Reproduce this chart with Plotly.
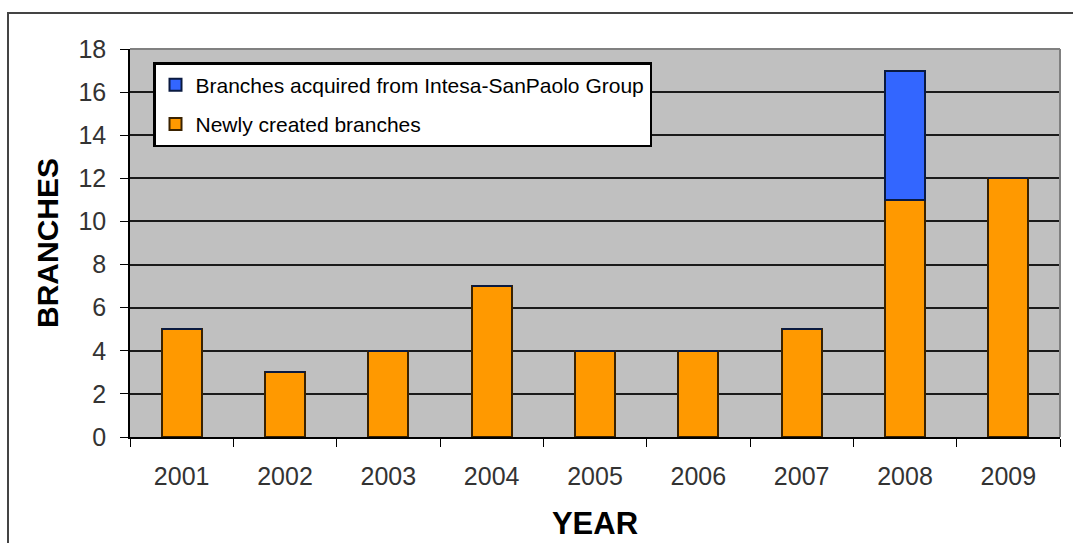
import plotly.graph_objects as go

years = ["2001", "2002", "2003", "2004", "2005", "2006", "2007", "2008", "2009"]
newly_created = [5, 3, 4, 7, 4, 4, 5, 11, 12]
acquired = [0, 0, 0, 0, 0, 0, 0, 6, 0]
y_ticks = [0, 2, 4, 6, 8, 10, 12, 14, 16, 18]

L, R, T, B = 130, 13, 49, 106
W, H = 1073, 543
pw, ph = W - L - R, H - T - B

fig = go.Figure()
fig.add_trace(go.Bar(
    x=years, y=newly_created, name="Newly created branches",
    legendgroup="a", legendrank=2,
    marker=dict(color="#FF9900", line=dict(color="#3a2200", width=2)),
))
fig.add_trace(go.Bar(
    x=years, y=acquired, name="Branches acquired from Intesa-SanPaolo Group",
    legendgroup="b", legendrank=1,
    marker=dict(color="#3366FF", line=dict(color="#0a1a40", width=2)),
))

fig.update_layout(
    width=W, height=H,
    margin=dict(l=L, r=R, t=T, b=B, autoexpand=False),
    barmode="stack",
    bargap=0.61,
    paper_bgcolor="white",
    plot_bgcolor="#C0C0C0",
    font=dict(family="Arial, Liberation Sans, sans-serif", size=25, color="#333333"),
    showlegend=True,
    legend=dict(
        traceorder="grouped",
        x=(153 - L) / pw, y=(H - B - 62) / ph, xanchor="left", yanchor="top",
        bgcolor="white", bordercolor="black", borderwidth=2.5,
        font=dict(size=21, color="black"),
        itemwidth=30, tracegroupgap=9,
    ),
    xaxis=dict(
        showgrid=False, showline=True, linecolor="black", linewidth=1.5,
        ticks="outside", ticklen=8, tickcolor="black", tickson="boundaries",
        tickfont=dict(size=25, color="#333333"), ticklabelstandoff=16,
        title=dict(text="<b>YEAR</b>", font=dict(size=31, color="black"), standoff=24),
        mirror=False, automargin=False,
    ),
    yaxis=dict(
        range=[0, 18], tickvals=y_ticks,
        showgrid=True, gridcolor="#1a1a1a", gridwidth=1.5,
        showline=True, linecolor="black", linewidth=1.5,
        ticks="outside", ticklen=8, tickcolor="black",
        tickfont=dict(size=25, color="#333333"), ticklabelstandoff=9,
        title=dict(text="<b>BRANCHES</b>", font=dict(size=30, color="black"), standoff=11),
        zeroline=False, automargin=False,
    ),
)

# outer chart frame
fig.add_shape(type="rect", xref="paper", yref="paper",
              x0=(8 - L) / pw, x1=(1080 - L) / pw,
              y0=(H - B - 560) / ph, y1=(H - B - 13) / ph,
              line=dict(color="#444444", width=2), fillcolor="rgba(0,0,0,0)", layer="below")
# plot area border (top/right gray)
fig.add_shape(type="line", xref="paper", yref="paper", x0=0, x1=1, y0=1, y1=1,
              line=dict(color="#808080", width=2))
fig.add_shape(type="line", xref="paper", yref="paper", x0=1, x1=1, y0=0, y1=1,
              line=dict(color="#808080", width=2))

fig.write_html("out.html")
